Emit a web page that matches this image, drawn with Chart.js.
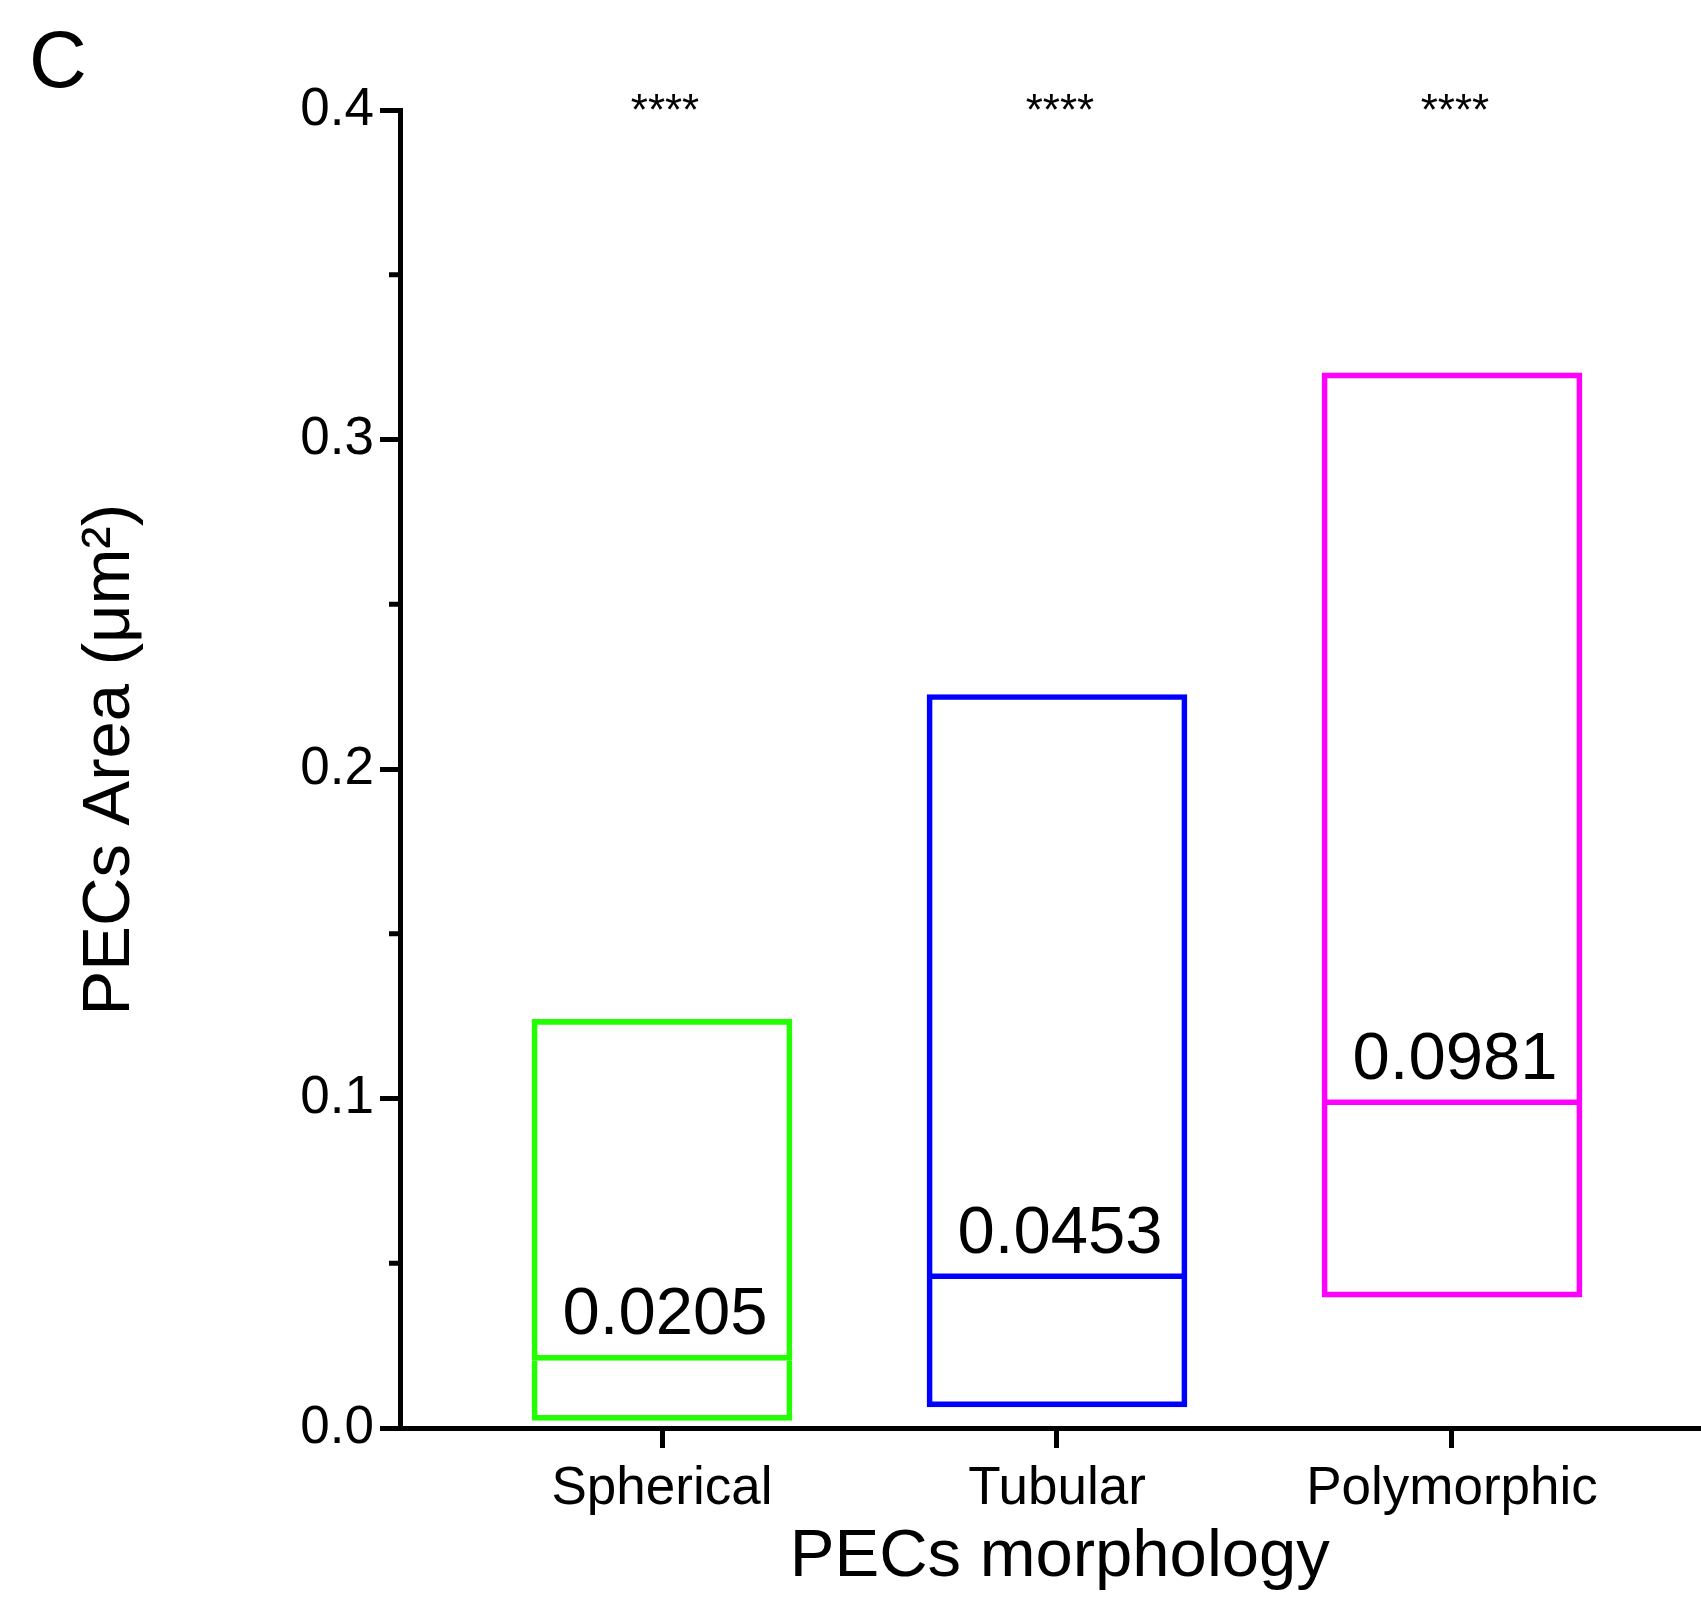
<!DOCTYPE html>
<html>
<head>
<meta charset="utf-8">
<script src="https://cdn.jsdelivr.net/npm/chart.js@4.4.1/dist/chart.umd.min.js"></script>
<style>
  html, body { margin: 0; padding: 0; background: #fff; }
  canvas { display: block; }
</style>
</head>
<body>
<canvas id="chart" width="1701" height="1598"></canvas>
<script>
// Box values (min / median / max of each group)
const categories = ['Spherical', 'Tubular', 'Polymorphic'];
const boxLow = [0.0023, 0.0064, 0.0397];
const boxMedian = [0.0205, 0.0453, 0.0981];
const boxHigh = [0.124, 0.2226, 0.3202];
const significance = ['****', '****', '****'];
const yMajorTicks = [0, 0.1, 0.2, 0.3, 0.4];
const yMinorTicks = [0.05, 0.15, 0.25, 0.35];
const boxColors = ['#22ff00', '#0000ff', '#ff00ff'];

const FONT = "'Liberation Sans', Arial, Helvetica, sans-serif";
const xMin = 0.3367;
const xMax = 3.6304;

// extra text: panel letter, stars, median values, minor y ticks
const annotations = {
    id: 'annotations',
    afterDraw(chart) {
        const { ctx, scales: { x, y } } = chart;
        ctx.save();

        ctx.strokeStyle = '#000';
        ctx.lineWidth = 5;
        yMinorTicks.forEach(v => {
            const py = y.getPixelForValue(v);
            ctx.beginPath();
            ctx.moveTo(y.right - 11, py);
            ctx.lineTo(y.right, py);
            ctx.stroke();
        });

        ctx.fillStyle = '#000';
        ctx.textBaseline = 'alphabetic';

        ctx.font = `80px ${FONT}`;
        ctx.textAlign = 'left';
        ctx.fillText('C', 29, 87);

        ctx.textAlign = 'center';
        ctx.font = `44px ${FONT}`;
        significance.forEach((s, i) => {
            ctx.fillText(s, x.getPixelForValue(i + 1) + 3, y.getPixelForValue(0.4) + 15);
        });

        ctx.font = `67px ${FONT}`;
        boxMedian.forEach((m, i) => {
            ctx.fillText(m.toFixed(4), x.getPixelForValue(i + 1) + 3, y.getPixelForValue(m) - 26);
        });

        ctx.restore();
    }
};

const upperData = categories.map((c, i) => ({ x: i + 1, y: [boxMedian[i], boxHigh[i]] }));
const lowerData = categories.map((c, i) => ({ x: i + 1, y: [boxLow[i], boxMedian[i]] }));

const barStyle = {
    borderColor: boxColors,
    backgroundColor: 'rgba(0,0,0,0)',
    borderWidth: 5,
    barThickness: 260,
    grouped: false
};

new Chart(document.getElementById('chart').getContext('2d'), {
    type: 'bar',
    data: {
        datasets: [
            { label: 'upper', data: upperData, borderSkipped: false, ...barStyle },
            { label: 'lower', data: lowerData, borderSkipped: 'top', ...barStyle }
        ]
    },
    options: {
        responsive: false,
        animation: false,
        devicePixelRatio: 1,
        layout: { padding: { top: 110, left: 0, right: 0, bottom: 0 } },
        plugins: {
            legend: { display: false },
            tooltip: { enabled: false }
        },
        scales: {
            x: {
                type: 'linear',
                min: xMin,
                max: xMax,
                offset: false,
                grid: { offset: false, drawOnChartArea: false, drawTicks: true, tickLength: 20, tickWidth: 5, tickColor: '#000' },
                border: { display: true, color: '#000', width: 5 },
                ticks: {
                    color: '#000',
                    font: { family: FONT, size: 53 },
                    padding: 10,
                    autoSkip: false,
                    maxRotation: 0,
                    callback: v => categories[v - 1] ?? ''
                },
                afterBuildTicks: s => { s.ticks = categories.map((c, i) => ({ value: i + 1 })); },
                afterFit: s => { s.height = 170; },
                title: {
                    display: true,
                    text: ' PECs morphology',
                    color: '#000',
                    font: { family: FONT, size: 67 },
                    padding: { top: 0, bottom: 0 }
                }
            },
            y: {
                type: 'linear',
                min: 0,
                max: 0.4,
                grid: { drawOnChartArea: false, drawTicks: true, tickLength: 20, tickWidth: 5, tickColor: '#000' },
                border: { display: true, color: '#000', width: 5 },
                ticks: {
                    color: '#000',
                    font: { family: FONT, size: 53 },
                    padding: 6,
                    callback: v => v.toFixed(1)
                },
                afterBuildTicks: s => { s.ticks = yMajorTicks.map(v => ({ value: v })); },
                afterFit: s => { s.width = 400; },
                title: {
                    display: true,
                    text: ' PECs Area (μm²)',
                    color: '#000',
                    font: { family: FONT, size: 67 },
                    padding: { top: 70, bottom: 0 }
                }
            }
        }
    },
    plugins: [annotations]
});
</script>
</body>
</html>
